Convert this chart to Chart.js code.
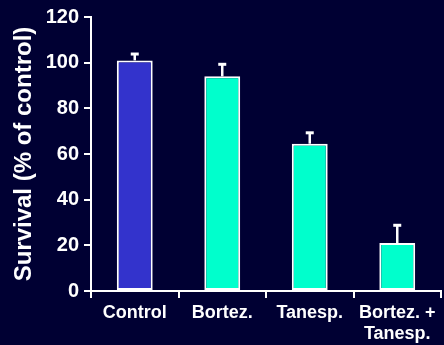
<!DOCTYPE html>
<html>
<head>
<meta charset="utf-8">
<script src="https://cdn.jsdelivr.net/npm/chart.js@4/dist/chart.umd.min.js"></script>
<style>
  html, body { margin: 0; padding: 0; background: #000033; }
  #wrap { width: 444px; height: 345px; position: relative; }
</style>
</head>
<body>
<div id="wrap"><canvas id="c" width="444" height="345"></canvas></div>
<script>
// Cell survival after each treatment, mean and upper error (SEM)
const categories = ['Control', 'Bortez.', 'Tanesp.', ['Bortez. +', 'Tanesp.']];
const survival = [101, 94, 64.5, 21];
const survivalErr = [3, 5.5, 5, 8];
const yTicks = [0, 20, 40, 60, 80, 100, 120];

const barColors = ['#3333CC', '#00FFCC', '#00FFCC', '#00FFCC'];
const FONT = '"Liberation Sans", Arial, Helvetica, sans-serif';

// one-sided error bars with a small cap on top of each bar
const errorBars = {
  id: 'errorBars',
  afterDatasetsDraw(chart) {
    const { ctx, scales: { y } } = chart;
    const meta = chart.getDatasetMeta(0);
    ctx.save();
    ctx.strokeStyle = '#FFFFFF';
    ctx.fillStyle = '#FFFFFF';
    ctx.lineWidth = 2.5;
    meta.data.forEach((bar, i) => {
      const top = y.getPixelForValue(survival[i] + survivalErr[i]);
      const base = y.getPixelForValue(survival[i]);
      ctx.beginPath();
      ctx.moveTo(bar.x, base);
      ctx.lineTo(bar.x, top);
      ctx.stroke();
      ctx.fillRect(bar.x - 4, top - 1, 8, 3);
    });
    ctx.restore();
  }
};

const background = {
  id: 'background',
  beforeDraw(chart) {
    const { ctx } = chart;
    ctx.save();
    ctx.fillStyle = '#000033';
    ctx.fillRect(0, 0, chart.width, chart.height);
    ctx.restore();
  }
};

new Chart(document.getElementById('c'), {
  type: 'bar',
  data: {
    labels: categories,
    datasets: [{
      data: survival,
      backgroundColor: barColors,
      borderColor: '#FFFFFF',
      borderWidth: 2,
      borderSkipped: false,
      barPercentage: 0.41,
      categoryPercentage: 1.0
    }]
  },
  options: {
    responsive: false,
    animation: false,
    layout: { padding: { top: 17, right: 3, left: 0, bottom: 0 } },
    plugins: {
      legend: { display: false },
      tooltip: { enabled: false }
    },
    scales: {
      x: {
        afterFit(scale) { scale.height = 54; },
        grid: {
          display: true,
          offset: true,
          drawOnChartArea: false,
          drawTicks: true,
          tickLength: 7,
          color: '#FFFFFF',
          lineWidth: 2
        },
        border: { display: true, color: '#FFFFFF', width: 2 },
        ticks: {
          color: '#FFFFFF',
          padding: 4,
          maxRotation: 0,
          autoSkip: false,
          font: { family: FONT, size: 18, weight: 'bold' }
        }
      },
      y: {
        min: 0,
        max: 120,
        afterFit(scale) { scale.width = 91; },
        afterBuildTicks(scale) { scale.ticks = yTicks.map(v => ({ value: v })); },
        grid: {
          display: true,
          drawOnChartArea: false,
          drawTicks: true,
          tickLength: 7,
          color: '#FFFFFF',
          lineWidth: 2
        },
        border: { display: true, color: '#FFFFFF', width: 2 },
        ticks: {
          color: '#FFFFFF',
          padding: 5,
          font: { family: FONT, size: 20, weight: 'bold' }
        },
        title: {
          display: true,
          text: 'Survival (% of control)',
          color: '#FFFFFF',
          padding: { top: 10, bottom: 0 },
          font: { family: FONT, size: 24, weight: 'bold' }
        }
      }
    }
  },
  plugins: [background, errorBars]
});
</script>
</body>
</html>
